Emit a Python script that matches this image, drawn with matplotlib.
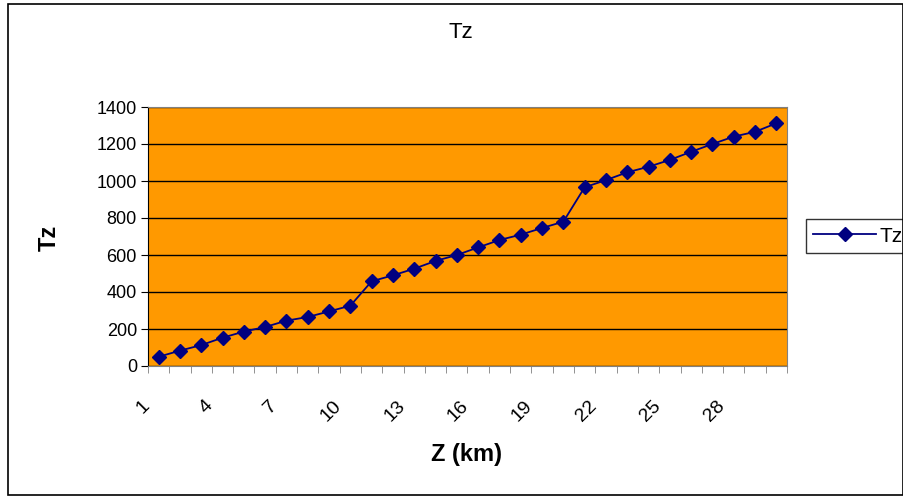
import numpy as np
import matplotlib.pyplot as plt
import matplotlib.transforms as mtransforms
from matplotlib.patches import Rectangle

plt.rcParams['font.family'] = ['Liberation Sans', 'DejaVu Sans']

# depth index (km) and Tz values
z_km = list(range(1, 31))
tz = [50, 83, 113, 153, 186, 211, 245, 265, 295, 326,
      458, 490, 526, 568, 600, 641, 681, 710, 746, 780,
      966, 1005, 1047, 1077, 1114, 1158, 1200, 1240, 1266, 1312]
y_ticks = [0, 200, 400, 600, 800, 1000, 1200, 1400]
x_label_pos = z_km[::3]

W, H = 904, 499
fig = plt.figure(figsize=(W / 100, H / 100), dpi=100)
fig.patch.set_facecolor('white')

# outer chart frame
fig.patches.append(Rectangle((7.5 / W, 4 / H), 896 / W, 491.5 / H, transform=fig.transFigure,
                             fill=False, edgecolor='black', linewidth=1.2))

ax = fig.add_axes([148 / W, (H - 366) / H, 639 / W, 259 / H])
ax.set_facecolor('#FF9900')

ax.plot(z_km, tz, color='#000080', linewidth=1.3, marker='D', markersize=7.5,
        markerfacecolor='#000080', markeredgecolor='#000080', label='Tz', zorder=3)

ax.set_xlim(0.5, 30.5)
ax.set_ylim(0, 1400)
ax.set_yticks(y_ticks)
ax.yaxis.grid(True, color='black', linewidth=1)
ax.set_axisbelow(True)

ax.set_xticks(x_label_pos)
ax.set_xticklabels([str(v) for v in x_label_pos], rotation=45, ha='right', va='center',
                   rotation_mode='anchor')
ax.set_xticks(np.arange(0.5, 31, 1), minor=True)
ax.tick_params(axis='x', which='major', length=0, pad=27, labelsize=14)
ax.tick_params(axis='x', which='minor', length=5, color='#808080', direction='out')
ax.tick_params(axis='y', length=5, color='black', labelsize=13, pad=3)

# shift the slanted labels a little to the left of their category
shift = mtransforms.ScaledTranslation(-0.12, 0, fig.dpi_scale_trans)
for lbl in ax.get_xticklabels():
    lbl.set_transform(lbl.get_transform() + shift)

for side in ['top', 'right', 'bottom']:
    ax.spines[side].set_color('#808080')
ax.spines['left'].set_color('black')

ax.set_xlabel('Z (km)', fontsize=17, fontweight='bold')
ax.xaxis.set_label_coords(467 / W, 1 - 455 / H, transform=fig.transFigure)
ax.xaxis.label.set_va('center')
ax.set_ylabel('Tz', fontsize=17, fontweight='bold')
ax.yaxis.set_label_coords(49 / W, 1 - 238 / H, transform=fig.transFigure)
ax.yaxis.label.set_va('center')
fig.text(461 / W, 1 - 32 / H, 'Tz', ha='center', va='center', fontsize=16)

leg = ax.legend(loc='center left', bbox_to_anchor=(806 / W, 1 - 236 / H),
                bbox_transform=fig.transFigure, frameon=True, fancybox=False,
                edgecolor='black', fontsize=15, handlelength=3.0, borderpad=0.35,
                handletextpad=0.2, borderaxespad=0)
leg.get_frame().set_linewidth(1)

fig.savefig('out.png', dpi=100)
